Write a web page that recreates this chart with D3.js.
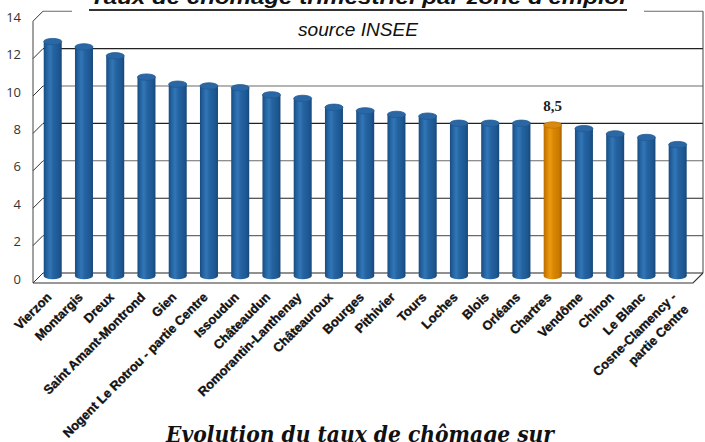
<!DOCTYPE html>
<html><head><meta charset="utf-8">
<script src="https://cdn.jsdelivr.net/npm/d3@7"></script>
<style>body{margin:0;background:#fff}svg{display:block}</style>
</head><body><div id="chart"></div>
<script>
const categories = ["Vierzon","Montargis","Dreux","Saint Amant-Montrond","Gien","Nogent Le Rotrou - partie Centre","Issoudun","Châteaudun","Romorantin-Lanthenay","Châteauroux","Bourges","Pithivier","Tours","Loches","Blois","Orléans","Chartres","Vendôme","Chinon","Le Blanc","Cosne-Clamency - partie Centre"];
const values = [13.2,12.9,12.4,11.2,10.8,10.7,10.6,10.2,10.0,9.5,9.3,9.1,9.0,8.6,8.6,8.6,8.5,8.3,8.0,7.8,7.4];
const highlight = "Chartres";
const yTicks = [0,2,4,6,8,10,12,14];
const titleText = "Taux de chômage trimestriel par zone d'emploi";
const subtitleText = "source INSEE";
const footerText = "Evolution du taux de chômage sur";
const labelLines = {"Cosne-Clamency - partie Centre":["Cosne-Clamency -","partie Centre"]};

const W=705,H=442;
const svg=d3.select("#chart").append("svg").attr("width",W).attr("height",H);
svg.append("rect").attr("width",W).attr("height",H).attr("fill","#fff");

const DX=10, DY=-10;
const yFront=d3.scaleLinear().domain([0,14]).range([283,21.2]);
const yBack=d3.scaleLinear().domain([0,14]).range([283+DY,21.2+DY]);
const yBar=d3.scaleLinear().domain([0,14]).range([276,27.4]);
const x=d3.scaleBand().domain(categories).range([37.1,693.3]).padding(0);
const frontL=33, frontR=693;

const defs=svg.append("defs");
function grad(id,stops){
  const g=defs.append("linearGradient").attr("id",id).attr("x1","0").attr("x2","1").attr("y1","0").attr("y2","0");
  stops.forEach(s=>g.append("stop").attr("offset",s[0]).attr("stop-color",s[1]));
}
grad("gBlue",[[0,"#1a4b80"],[0.18,"#2465a3"],[0.35,"#3376b6"],[0.55,"#2463a1"],[0.85,"#1d5791"],[1,"#184676"]]);
grad("gOrange",[[0,"#b96c00"],[0.18,"#d98500"],[0.35,"#eb9a14"],[0.55,"#d98700"],[0.85,"#c97a00"],[1,"#a65f00"]]);

const grid=svg.append("g").attr("fill","none");
yTicks.forEach((v,i)=>{
  const col=i%2?"#6a6a6a":"#222";
  grid.append("line").attr("stroke",col).attr("stroke-width",1.1).attr("x1",frontL+DX).attr("x2",frontR+DX).attr("y1",yBack(v)).attr("y2",yBack(v));
  grid.append("line").attr("stroke","#333").attr("stroke-width",1).attr("x1",frontL).attr("x2",frontL+DX).attr("y1",yFront(v)).attr("y2",yBack(v));
});
grid.append("line").attr("stroke","#444").attr("x1",frontL).attr("x2",frontL).attr("y1",yFront(0)).attr("y2",yFront(14));
grid.append("line").attr("stroke","#444").attr("x1",frontR+DX).attr("x2",frontR+DX).attr("y1",yBack(0)).attr("y2",yBack(14));
grid.append("path").attr("stroke","#333").attr("stroke-width",1.1).attr("d",`M${frontL},${yFront(0)}H${frontR}L${frontR+DX},${yBack(0)}`);

// title box
svg.append("rect").attr("x",72).attr("y",0).attr("width",572).attr("height",42).attr("fill","#fff");
svg.append("text").attr("x",358).attr("y",4).attr("text-anchor","middle")
  .attr("font-family","Liberation Sans, Arial, sans-serif").attr("font-weight","bold").attr("font-style","italic")
  .attr("font-size",21).attr("fill","#111").attr("textLength",536).attr("lengthAdjust","spacingAndGlyphs").text(titleText);
svg.append("line").attr("x1",89).attr("x2",627).attr("y1",10).attr("y2",10).attr("stroke","#333").attr("stroke-width",2.2);
svg.append("text").attr("x",358).attr("y",36).attr("text-anchor","middle")
  .attr("font-family","Liberation Sans Narrow, Liberation Sans, Arial, sans-serif").attr("font-style","italic")
  .attr("font-size",19).attr("fill","#111").attr("textLength",120).attr("lengthAdjust","spacingAndGlyphs").text(subtitleText);

// y labels
svg.append("g").selectAll("text").data(yTicks).join("text")
  .attr("x",21).attr("y",d=>yFront(d)-4).attr("dy","0.35em").attr("text-anchor","end")
  .attr("font-family","Open Sans, sans-serif").attr("font-size",13).attr("fill","#333").text(d=>d);

// bars
const bw=18, ry=3.2;
const bars=svg.append("g");
categories.forEach((c,i)=>{
  const cx=x(c)+x.bandwidth()/2, v=values[i], hi=c===highlight;
  const g=bars.append("g");
  const fill=hi?"url(#gOrange)":"url(#gBlue)";
  g.append("ellipse").attr("cx",cx).attr("cy",yBar(0)).attr("rx",bw/2).attr("ry",ry).attr("fill",fill);
  g.append("rect").attr("x",cx-bw/2).attr("y",yBar(v)).attr("width",bw).attr("height",yBar(0)-yBar(v)).attr("fill",fill);
  g.append("ellipse").attr("cx",cx).attr("cy",yBar(v)).attr("rx",bw/2).attr("ry",ry)
    .attr("fill",hi?"#d98a12":"#2b67a4").attr("stroke",hi?"#c07400":"#1f5a94").attr("stroke-width",0.8);
  if(hi){
    svg.append("text").attr("x",cx).attr("y",yBar(v)-14).attr("text-anchor","middle")
      .attr("font-family","Liberation Serif, serif").attr("font-weight","bold").attr("font-size",15).attr("fill","#222")
      .text(String(v).replace(".",","));
  }
});

// x labels
const xl=svg.append("g").attr("font-family","Liberation Sans, Arial, sans-serif").attr("font-weight","bold").attr("font-size",12.8)
  .attr("fill","#111").attr("stroke","#111").attr("stroke-width",0.35);
categories.forEach(c=>{
  const cx=x(c)+x.bandwidth()/2;
  const lines=labelLines[c]||[c];
  const t=xl.append("text").attr("text-anchor","end").attr("transform",`translate(${cx-0.5},298) rotate(-45)`);
  lines.forEach((l,j)=>t.append("tspan").attr("x",0).attr("dy",j?"1.35em":0).text(l));
});

svg.append("text").attr("x",360).attr("y",442).attr("text-anchor","middle")
  .attr("font-family","DejaVu Serif, serif").attr("font-weight","bold").attr("font-style","italic")
  .attr("font-size",22).attr("fill","#111").attr("textLength",388).attr("lengthAdjust","spacingAndGlyphs").text(footerText);
</script></body></html>
